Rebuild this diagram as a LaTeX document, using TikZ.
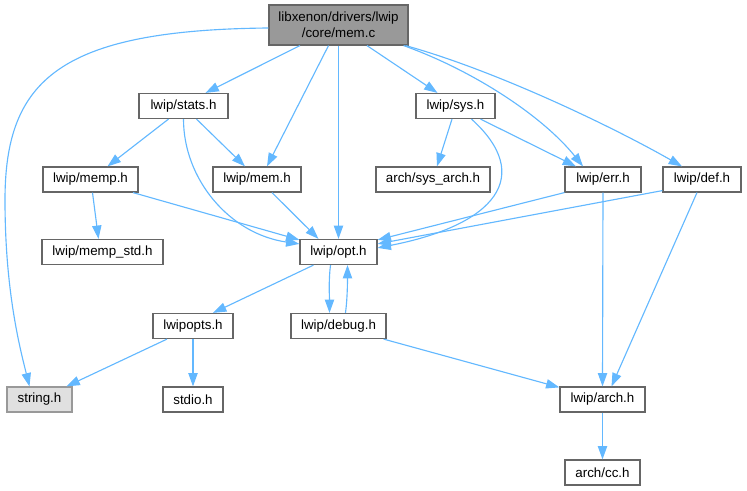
\documentclass[tikz,border=0pt]{standalone}
\usepackage{fontspec}
\setmainfont{Liberation Sans}
\usetikzlibrary{arrows.meta,calc}
\definecolor{edgec}{HTML}{63B8FF}
\definecolor{boxline}{HTML}{666666}
\definecolor{topfill}{HTML}{999999}
\definecolor{extfill}{HTML}{E0E0E0}
\definecolor{extline}{HTML}{999999}
\begin{document}
\begin{tikzpicture}[x=0.75pt,y=-0.75pt,
  box/.style={draw=boxline, line width=0.9pt, fill=white, inner sep=0pt,
    minimum height=18.75pt, font=\fontsize{10}{12}\selectfont, text=black},
  wd/.style={minimum width=#1*0.75pt},
  edge/.style={draw=edgec, line width=0.85pt, -{Triangle[length=10pt,width=7pt]}}]
\useasboundingbox (0,0) rectangle (747,491);
% nodes
\node[box, wd=139, minimum height=30pt, fill=topfill, align=center] (memc) at (338.5,25) {libxenon/drivers/lwip\\/core/mem.c};
\node[box, wd=89] (stats) at (183.5,106) {lwip/stats.h};
\node[box, wd=79] (sys) at (455.5,106) {lwip/sys.h};
\node[box, wd=95] (memp) at (90.5,179.5) {lwip/memp.h};
\node[box, wd=88] (memh) at (257,179.5) {lwip/mem.h};
\node[box, wd=114] (sysarch) at (433,179.5) {arch/sys\_arch.h};
\node[box, wd=76] (err) at (603,179.5) {lwip/err.h};
\node[box, wd=78] (def) at (702,179.5) {lwip/def.h};
\node[box, wd=121] (mempstd) at (102.5,252) {lwip/memp\_std.h};
\node[box, wd=77] (opt) at (338.5,252) {lwip/opt.h};
\node[box, wd=80] (lwipopts) at (193,326) {lwipopts.h};
\node[box, wd=95] (debug) at (338.5,326) {lwip/debug.h};
\node[box, wd=65, fill=extfill, draw=extline] (string) at (39.5,399.5) {string.h};
\node[box, wd=60] (stdio) at (193,399.5) {stdio.h};
\node[box, wd=85] (arch) at (602.5,399.5) {lwip/arch.h};
\node[box, wd=75] (cc) at (602.5,472.5) {arch/cc.h};
\coordinate (bendA) at (5,200);
% edges
\draw[edge] ($(memc.west)+(0,3)$) .. controls +(-209,2) and +(0,-120) .. (bendA)
   .. controls +(0,90) and +(-10,-40) .. ($(string.north)+(-10,0)$);
\draw[edge] ($(memc.south)+(-38.5,0)$) -- ($(stats.north)+(22,0)$);
\draw[edge] ($(memc.south)+(-10,0)$) -- ($(memh.north)+(10,0)$);
\draw[edge] (memc.south) -- (opt.north);
\draw[edge] ($(memc.south)+(28.5,0)$) -- ($(sys.north)+(-18,0)$);
\draw[edge] ($(memc.south east)+(-5,0)$) .. controls +(70,25) and +(-40,-50) .. ($(err.north)+(-20,0)$);
\draw[edge] ($(memc.south east)+(-3,0)$) .. controls +(90,25) and +(-70,-40) .. ($(def.north)+(-20,0)$);
\draw[edge] ($(stats.south)+(-15,0)$) -- ($(memp.north)+(17,0)$);
\draw[edge] ($(stats.south)+(13,0)$) -- ($(memh.north)+(-12,0)$);
\draw[edge] (stats.south) .. controls +(0,60) and +(-70,-10) .. ($(opt.north west)+(0,5)$);
\draw[edge] ($(memp.south)+(2,0)$) -- ($(mempstd.north)+(-4,0)$);
\draw[edge] ($(memp.south)+(42.5,0)$) -- ($(opt.north west)+(0,1)$);
\draw[edge] ($(memh.south)+(15,0)$) -- ($(opt.north)+(-20,0)$);
\draw[edge] ($(sys.south)+(-3.5,0)$) -- ($(sysarch.north)+(4,0)$);
\draw[edge] ($(sys.south)+(25,0)$) -- ($(err.north)+(-27,0)$);
\draw[edge] ($(sys.south)+(16,0)$) .. controls +(63,57) and +(118,-23) .. ($(opt.north east)+(0,9)$);
\draw[edge] (err.south west) -- ($(opt.north east)+(0,1)$);
\draw[edge] ($(def.south west)+(0,-2)$) -- ($(opt.north east)+(0,5)$);
\draw[edge] (err.south) -- (arch.north);
\draw[edge] ($(def.south)+(-5,0)$) -- ($(arch.north)+(9,0)$);
\draw[edge] ($(opt.south)+(-25,0)$) -- ($(lwipopts.north)+(20,0)$);
\draw[edge] ($(opt.south)+(-8,0)$) .. controls +(-2,15) and +(0,-15) .. ($(debug.north)+(-9,0)$);
\draw[edge] ($(debug.north)+(7,0)$) .. controls +(2,-15) and +(0,15) .. ($(opt.south)+(9,0)$);
\draw[edge] ($(lwipopts.south)+(-26,0)$) -- ($(string.north)+(27,0)$);
\draw[edge] (lwipopts.south) -- (stdio.north);
\draw[edge] ($(debug.south east)+(-3,0)$) -- ($(arch.north west)+(0,1)$);
\draw[edge] (arch.south) -- (cc.north);
\end{tikzpicture}
\end{document}
